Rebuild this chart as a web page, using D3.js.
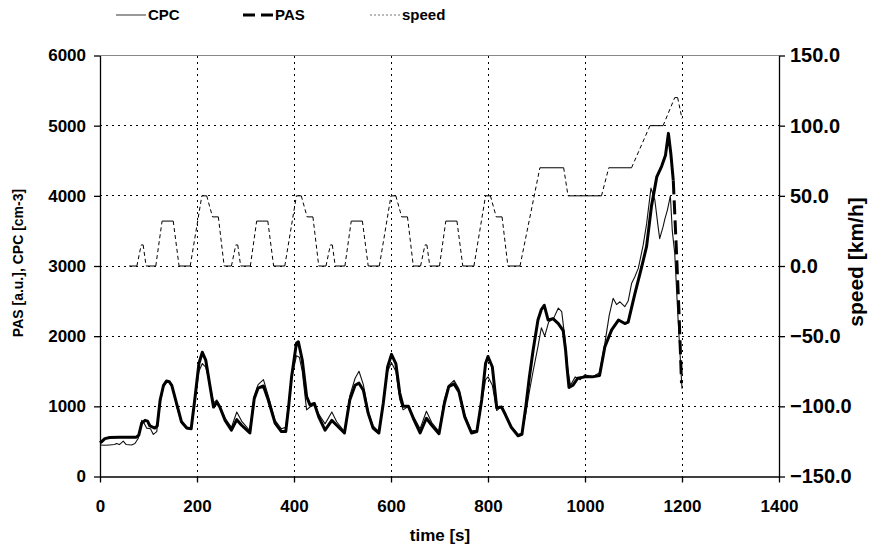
<!DOCTYPE html>
<html lang="en">
<head>
<meta charset="utf-8">
<title>PAS, CPC and speed over time</title>
<script src="https://cdn.jsdelivr.net/npm/d3@7"></script>
<style>
  body { margin: 0; background: #fff; }
  text { font-family: "Liberation Sans", Arial, sans-serif; font-weight: bold; fill: #000; }
</style>
</head>
<body>
<script>
// tick values
var timeTicks = [0, 200, 400, 600, 800, 1000, 1200, 1400];
var leftTicks = [0, 1000, 2000, 3000, 4000, 5000, 6000];
var rightTicks = [-150, -100, -50, 0, 50, 100, 150];

// [time s, value]
var cpc = [[0,450],[10,445],[20,450],[30,455],[34,470],[40,455],[48,505],[54,455],[65,450],[72,470],[79,545],[86,800],[91,760],[96,690],[104,680],[110,600],[117,640],[124,1050],[131,1280],[137,1340],[143,1340],[150,1260],[158,1000],[168,760],[179,680],[188,680],[196,1100],[204,1500],[211,1610],[218,1560],[227,1300],[234,1050],[241,1090],[247,1000],[258,830],[271,700],[282,920],[292,790],[309,650],[318,1150],[326,1310],[337,1380],[347,1150],[361,800],[374,680],[383,700],[395,1400],[405,1720],[411,1700],[417,1500],[426,950],[433,990],[442,1020],[451,890],[464,750],[478,920],[488,780],[504,640],[515,1150],[526,1400],[534,1500],[543,1310],[553,930],[563,720],[575,640],[584,1050],[593,1500],[601,1620],[610,1500],[618,1100],[625,950],[636,1000],[646,860],[660,680],[673,930],[684,770],[699,640],[710,1100],[719,1300],[730,1370],[740,1250],[752,880],[766,650],[777,660],[787,1050],[795,1380],[800,1420],[809,1300],[818,940],[828,1000],[836,880],[848,720],[862,600],[870,620],[878,900],[885,1200],[893,1500],[903,1850],[910,2120],[917,2000],[925,2200],[935,2250],[945,2400],[952,2350],[958,2000],[965,1500],[970,1300],[980,1420],[990,1380],[1000,1450],[1015,1420],[1030,1480],[1041,1900],[1050,2300],[1058,2540],[1065,2450],[1072,2490],[1082,2420],[1089,2500],[1096,2750],[1103,2850],[1110,2970],[1120,3300],[1127,3600],[1136,4110],[1144,3940],[1150,3600],[1154,3390],[1161,3560],[1165,3680],[1170,3800],[1176,4000],[1180,3500],[1185,3180],[1192,2230],[1200,1250]];

var pas = [[0,480],[4,500],[10,540],[20,555],[40,560],[60,560],[75,560],[80,590],[86,760],[93,800],[98,790],[103,720],[113,690],[118,720],[124,1090],[131,1300],[137,1360],[143,1350],[148,1300],[158,1040],[168,780],[179,690],[188,680],[196,1130],[204,1610],[211,1770],[218,1660],[227,1280],[234,990],[241,1060],[247,990],[258,800],[271,660],[282,810],[292,730],[309,620],[318,1110],[326,1260],[337,1290],[347,1090],[361,760],[374,640],[383,640],[389,1000],[395,1420],[405,1900],[409,1920],[417,1660],[426,1140],[433,1020],[442,1040],[451,850],[464,660],[478,800],[488,730],[504,620],[515,1090],[526,1300],[534,1330],[543,1230],[553,900],[563,690],[575,620],[584,1040],[593,1560],[601,1740],[610,1610],[618,1190],[625,1000],[636,1000],[646,830],[660,620],[673,830],[684,730],[699,610],[710,1040],[719,1280],[730,1320],[740,1210],[752,850],[766,620],[777,640],[787,1090],[795,1610],[800,1710],[809,1560],[818,980],[828,990],[836,880],[848,700],[862,580],[870,600],[878,1000],[885,1400],[893,1800],[903,2230],[910,2380],[916,2440],[924,2230],[934,2250],[945,2180],[955,2080],[960,1800],[963,1550],[967,1270],[975,1300],[985,1400],[1000,1420],[1015,1420],[1030,1440],[1041,1850],[1055,2090],[1069,2230],[1082,2180],[1089,2200],[1103,2610],[1117,2990],[1127,3280],[1137,3850],[1148,4270],[1158,4420],[1166,4580],[1172,4890],[1177,4600],[1182,4220],[1188,3300],[1194,2300],[1199,1330]];

var speed = [[60,0],[76,0],[85,15],[89,15],[95,0],[115,0],[128,32],[151,32],[163,0],[186,0],[210,50],[220,50],[232,35],[244,35],[256,0],
  [271,0],[280,15],[284,15],[290,0],[310,0],[323,32],[346,32],[358,0],[381,0],[405,50],[415,50],[427,35],[439,35],[451,0],
  [466,0],[475,15],[479,15],[485,0],[505,0],[518,32],[541,32],[553,0],[576,0],[600,50],[610,50],[622,35],[634,35],[646,0],
  [661,0],[670,15],[674,15],[680,0],[700,0],[713,32],[736,32],[748,0],[771,0],[795,50],[805,50],[817,35],[829,35],[841,0],
  [866,0],[907,70],[956,70],[965,50],[1034,50],[1049,70],[1096,70],[1134,100],[1161,100],[1185,120],[1191,120],[1200,105]];

var w = 895, h = 549;
var mLeft = 100, mRight = 779, mTop = 55.5, mBottom = 476.5;

var x = d3.scaleLinear().domain([0, 1400]).range([mLeft, mRight]);
var y = d3.scaleLinear().domain([0, 6000]).range([mBottom, mTop]);
var ys = d3.scaleLinear().domain([-150, 150]).range([mBottom, mTop]);

var svg = d3.select("body").append("svg")
  .attr("width", w)
  .attr("height", h);

// grid
var grid = svg.append("g").attr("stroke", "#000").attr("stroke-width", 1)
  .attr("stroke-dasharray", "2,4").attr("shape-rendering", "crispEdges");
grid.selectAll(".gx")
  .data(timeTicks.filter(function(d) { return d > 0 && d < 1400; }))
  .enter().append("line")
  .attr("x1", function(d) { return x(d); })
  .attr("x2", function(d) { return x(d); })
  .attr("y1", mTop).attr("y2", mBottom);
grid.selectAll(".gy")
  .data(leftTicks.filter(function(d) { return d > 0 && d < 6000; }))
  .enter().append("line")
  .attr("x1", mLeft).attr("x2", mRight)
  .attr("y1", function(d) { return y(d); })
  .attr("y2", function(d) { return y(d); });
svg.append("line")
  .attr("x1", mLeft).attr("x2", mRight)
  .attr("y1", y(6000)).attr("y2", y(6000))
  .attr("stroke", "#888").attr("shape-rendering", "crispEdges");

// axes
function styleAxis(g, size) {
  g.selectAll("path, line").attr("stroke", "#000").attr("stroke-width", 1.3);
  g.selectAll("text").attr("font-size", size).attr("font-family", null).attr("fill", "#000");
}
svg.append("g")
  .attr("transform", "translate(0," + mBottom + ")")
  .call(d3.axisBottom(x).tickValues(timeTicks).tickSize(6).tickSizeOuter(0).tickPadding(17)
    .tickFormat(d3.format("d")))
  .call(styleAxis, 17);
svg.append("g")
  .attr("transform", "translate(" + mLeft + ",0)")
  .call(d3.axisLeft(y).tickValues(leftTicks).tickSize(6).tickSizeOuter(0).tickPadding(8)
    .tickFormat(d3.format("d")))
  .call(styleAxis, 17);
svg.append("g")
  .attr("transform", "translate(" + mRight + ",0)")
  .call(d3.axisRight(ys).tickValues(rightTicks).tickSize(6).tickSizeOuter(0).tickPadding(5)
    .tickFormat(d3.format(".1f")))
  .call(styleAxis, 20);

// axis titles
svg.append("text")
  .attr("x", 440).attr("y", 541)
  .attr("text-anchor", "middle").attr("font-size", 17)
  .text("time [s]");
svg.append("text")
  .attr("transform", "translate(23,263) rotate(-90)")
  .attr("text-anchor", "middle").attr("font-size", 14)
  .text("PAS [a.u.], CPC [cm-3]");
svg.append("text")
  .attr("transform", "translate(863,262) rotate(-90)")
  .attr("text-anchor", "middle").attr("font-size", 21)
  .text("speed [km/h]");

// series
var lineP = d3.line()
  .x(function(d) { return x(d[0]); })
  .y(function(d) { return y(d[1]); });
var lineS = d3.line()
  .x(function(d) { return x(d[0]); })
  .y(function(d) { return ys(d[1]); });

svg.append("path")
  .datum(cpc)
  .attr("d", lineP)
  .attr("fill", "none")
  .attr("stroke", "#111")
  .attr("stroke-width", 1.1)
  .attr("stroke-linejoin", "round");

// PAS: short steps look solid, long steps show the dash (like the original)
var runs = [], cur = [pas[0]], curLong = false;
for (var i = 1; i < pas.length; i++) {
  var dx = x(pas[i][0]) - x(pas[i - 1][0]);
  var dy = y(pas[i][1]) - y(pas[i - 1][1]);
  var isLong = Math.sqrt(dx * dx + dy * dy) > 50;
  if (isLong !== curLong && cur.length > 1) {
    runs.push({ pts: cur, dashed: curLong });
    cur = [pas[i - 1]];
  }
  curLong = isLong;
  cur.push(pas[i]);
}
runs.push({ pts: cur, dashed: curLong });

svg.selectAll(".pas")
  .data(runs)
  .enter().append("path")
  .attr("d", function(d) { return lineP(d.pts); })
  .attr("fill", "none")
  .attr("stroke", "#000")
  .attr("stroke-width", 3)
  .attr("stroke-linejoin", "round")
  .attr("stroke-dasharray", function(d) { return d.dashed ? "14,6" : null; });

// speed: flat parts solid, ramps dashed
var segs = d3.pairs(speed);
svg.selectAll(".spd")
  .data(segs)
  .enter().append("path")
  .attr("d", function(d) { return lineS(d); })
  .attr("fill", "none")
  .attr("stroke", "#000")
  .attr("stroke-width", 1)
  .attr("stroke-dasharray", function(d) { return d[0][1] === d[1][1] ? null : "4,3"; });

// legend
var legend = [
  { name: "CPC", x0: 116, width: 1.2, dash: null, color: "#555" },
  { name: "PAS", x0: 243, width: 3, dash: "12,6", color: "#000" },
  { name: "speed", x0: 370, width: 1, dash: "2,2", color: "#777" }
];
var lg = svg.selectAll(".lg").data(legend).enter().append("g");
lg.append("line")
  .attr("x1", function(d) { return d.x0; })
  .attr("x2", function(d) { return d.x0 + 30; })
  .attr("y1", 15).attr("y2", 15)
  .attr("stroke", function(d) { return d.color; })
  .attr("stroke-width", function(d) { return d.width; })
  .attr("stroke-dasharray", function(d) { return d.dash; });
lg.append("text")
  .attr("x", function(d) { return d.x0 + 32; })
  .attr("y", 20)
  .attr("font-size", 15)
  .text(function(d) { return d.name; });
</script>
</body>
</html>
